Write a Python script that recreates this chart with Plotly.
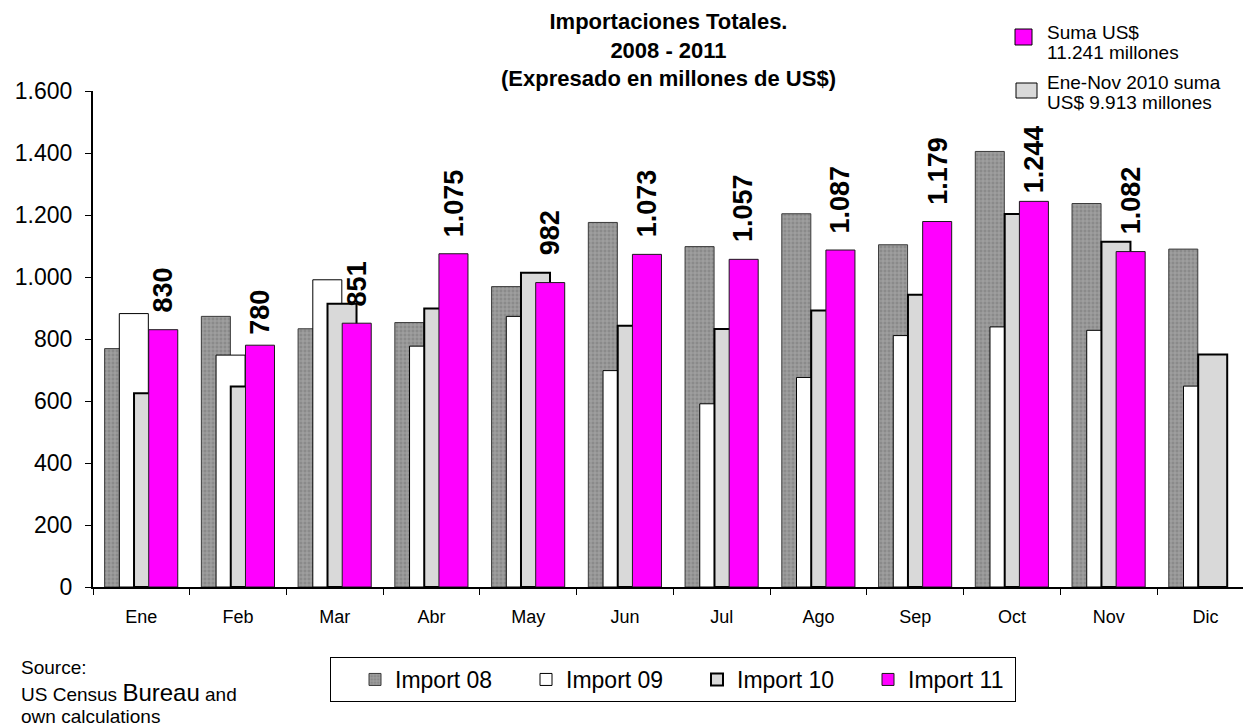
import plotly.graph_objects as go

months = ["Ene", "Feb", "Mar", "Abr", "May", "Jun", "Jul", "Ago", "Sep", "Oct", "Nov", "Dic"]
import08 = [769, 873, 833, 853, 969, 1176, 1098, 1204, 1104, 1405, 1237, 1090]
import09 = [882, 748, 991, 777, 873, 698, 591, 676, 811, 839, 828, 648]
import10 = [625, 647, 914, 898, 1014, 843, 832, 892, 943, 1203, 1114, 750]
import11 = [830, 780, 851, 1075, 982, 1073, 1057, 1087, 1179, 1244, 1082, None]
series_names = ["Import 08", "Import 09", "Import 10", "Import 11"]
y_ticks = [0, 200, 400, 600, 800, 1000, 1200, 1400, 1600]

title_lines = ["Importaciones Totales.", "2008 - 2011", "(Expresado en millones de US$)"]
note1 = ["Suma US$", "11.241 millones"]
note2 = ["Ene-Nov 2010 suma", "US$ 9.913 millones"]
source_lines = ["Source:", "US Census <span style='font-size:24px'>Bureau</span> and", "own calculations"]

# the page body adds an 8px margin, so the figure is made 8px smaller
OFF = 8
W, H = 1251 - OFF, 727 - OFF
L, R, T, B = 93 - OFF, 0, 91 - OFF, 140
PW = W - L - R
PH = H - T - B
XR = [-0.5, 11.47]

# gap (px) between a label and its bar; a few labels sit at other distances in the original
LABEL_SHIFT_DEFAULT = 15
LABEL_SHIFT_SPECIAL = {"Feb": 9, "May": 25, "Oct": 6}


def px2x(px):
    return (px - OFF - L) / PW


def px2y(py):
    return (H - B - (py - OFF)) / PH


def fmt(v):
    return f"{v:,}".replace(",", ".")


FONT = "Liberation Sans, Arial, sans-serif"
bar_w = 0.30
step = 0.152
offsets = [-0.38, -0.38 + step, -0.38 + 2 * step, -0.38 + 3 * step]

fig = go.Figure()
fig.add_trace(go.Bar(
    x=months, y=import08, name=series_names[0], offset=offsets[0], width=bar_w,
    marker=dict(color="#8a8a8a", line=dict(color="#3a3a3a", width=1),
                pattern=dict(shape="+", bgcolor="#8a8a8a", fgcolor="#bdbdbd", size=4, solidity=0.45)),
))
fig.add_trace(go.Bar(
    x=months, y=import09, name=series_names[1], offset=offsets[1], width=bar_w,
    marker=dict(color="#ffffff", line=dict(color="#000000", width=1)),
))
fig.add_trace(go.Bar(
    x=months, y=import10, name=series_names[2], offset=offsets[2], width=bar_w,
    marker=dict(color="#d9d9d9", line=dict(color="#000000", width=2)),
))
fig.add_trace(go.Bar(
    x=months, y=import11, name=series_names[3], offset=offsets[3], width=bar_w,
    marker=dict(color="#ff00ff", line=dict(color="#1a1a1a", width=1)),
))

annotations = []
label_shift = (offsets[3] + bar_w / 2) * PW / (XR[1] - XR[0])
for m, v in zip(months, import11):
    if v is None:
        continue
    annotations.append(dict(
        x=m, y=v, xref="x", yref="y", text="<b>" + fmt(v) + "</b>", showarrow=False,
        textangle=-90, xanchor="center", yanchor="bottom", xshift=label_shift,
        yshift=LABEL_SHIFT_SPECIAL.get(m, LABEL_SHIFT_DEFAULT),
        font=dict(family=FONT, size=27, color="#000000"),
    ))

annotations.append(dict(
    x=px2x(668), y=px2y(50), xref="paper", yref="paper", xanchor="center", yanchor="middle",
    text="<b>" + "<br>".join(title_lines) + "</b>", showarrow=False, borderpad=0, align="center",
    font=dict(family=FONT, size=22, color="#000000"),
))
for line, cy in zip(note1 + note2, [32, 53, 82, 103]):
    annotations.append(dict(
        x=px2x(1046), y=px2y(cy), xref="paper", yref="paper", xanchor="left", yanchor="middle",
        text=line, showarrow=False, borderpad=0,
        font=dict(family=FONT, size=19, color="#000000"),
    ))
for line, cy in zip(source_lines, [667, 692, 716]):
    annotations.append(dict(
        x=px2x(20), y=px2y(cy), xref="paper", yref="paper", xanchor="left", yanchor="middle",
        text=line, showarrow=False, borderpad=0,
        font=dict(family=FONT, size=19, color="#000000"),
    ))

shapes = [
    dict(type="rect", xref="paper", yref="paper", x0=px2x(1015), x1=px2x(1032), y0=px2y(45), y1=px2y(29),
         fillcolor="#ff00ff", line=dict(color="#000000", width=1)),
    dict(type="rect", xref="paper", yref="paper", x0=px2x(1016), x1=px2x(1037), y0=px2y(98), y1=px2y(83),
         fillcolor="#d9d9d9", line=dict(color="#000000", width=1)),
]

fig.update_layout(
    width=W, height=H, autosize=False,
    margin=dict(l=L, r=R, t=T, b=B, autoexpand=False),
    paper_bgcolor="#ffffff", plot_bgcolor="#ffffff",
    barmode="overlay", separators=",.",
    showlegend=True,
    legend=dict(orientation="h", x=px2x(330), y=px2y(657), xanchor="left", yanchor="top",
                bordercolor="#000000", borderwidth=1, bgcolor="#ffffff",
                font=dict(family=FONT, size=23, color="#000000"),
                entrywidth=102, entrywidthmode="pixels", traceorder="normal",
                indentation=24),
    annotations=annotations, shapes=shapes,
    font=dict(family=FONT, color="#000000"),
)
fig.update_xaxes(type="category", categoryorder="array", categoryarray=months,
                 range=XR, showline=True, linecolor="#000000", linewidth=2,
                 ticks="outside", tickson="boundaries", ticklen=6, tickcolor="#000000", tickwidth=1,
                 showgrid=False, ticklabelstandoff=12,
                 tickfont=dict(family=FONT, size=18, color="#000000"))
fig.update_yaxes(range=[0, 1600], tickvals=y_ticks, tickformat=",d", showline=True,
                 linecolor="#000000", linewidth=2, ticks="outside", ticklen=6, tickcolor="#000000",
                 showgrid=False, zeroline=False, ticklabelstandoff=8,
                 tickfont=dict(family=FONT, size=23, color="#000000"))

fig.write_html("out.html")
